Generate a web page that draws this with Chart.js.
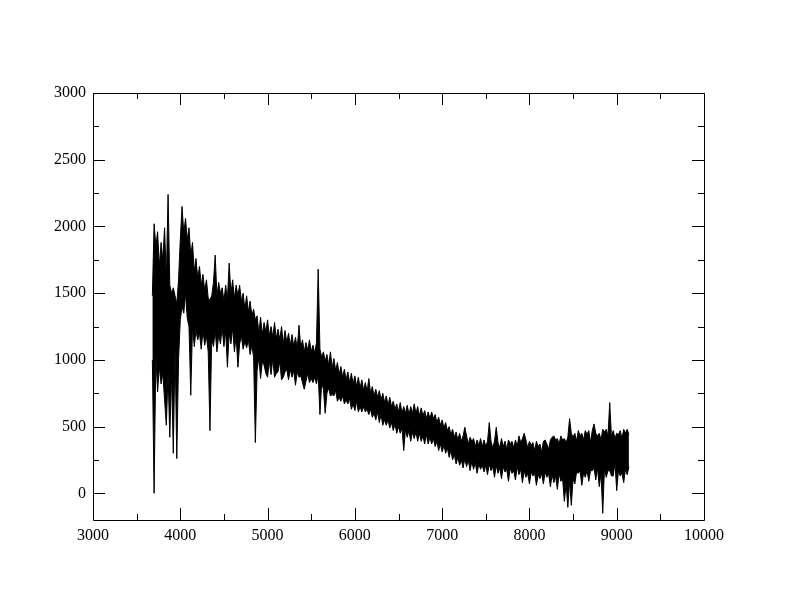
<!DOCTYPE html>
<html>
<head>
<meta charset="utf-8">
<script src="https://cdn.jsdelivr.net/npm/chart.js@4.4.0/dist/chart.umd.min.js"></script>
<style>
  html, body { margin: 0; padding: 0; background: #fff; }
  #wrap { width: 792px; height: 612px; }
</style>
</head>
<body>
<div id="wrap"><canvas id="spec" width="792" height="612"></canvas></div>
<script>
// spectrum: wavelength (A), upper and lower edge of the noisy trace
var wavelength = [
  3680,3700,3720,3740,3760,3780,3800,3820,3840,3860,
  3880,3900,3920,3940,3960,3980,4000,4020,4040,4060,
  4080,4100,4120,4140,4160,4180,4200,4220,4240,4260,
  4280,4300,4320,4340,4360,4380,4400,4420,4440,4460,
  4480,4500,4520,4540,4560,4580,4600,4620,4640,4660,
  4680,4700,4720,4740,4760,4780,4800,4820,4840,4860,
  4880,4900,4920,4940,4960,4980,5000,5020,5040,5060,
  5080,5100,5120,5140,5160,5180,5200,5220,5240,5260,
  5280,5300,5320,5340,5360,5380,5400,5420,5440,5460,
  5480,5500,5520,5540,5560,5580,5600,5620,5640,5660,
  5680,5700,5720,5740,5760,5780,5800,5820,5840,5860,
  5880,5900,5920,5940,5960,5980,6000,6020,6040,6060,
  6080,6100,6120,6140,6160,6180,6200,6220,6240,6260,
  6280,6300,6320,6340,6360,6380,6400,6420,6440,6460,
  6480,6500,6520,6540,6560,6580,6600,6620,6640,6660,
  6680,6700,6720,6740,6760,6780,6800,6820,6840,6860,
  6880,6900,6920,6940,6960,6980,7000,7020,7040,7060,
  7080,7100,7120,7140,7160,7180,7200,7220,7240,7260,
  7280,7300,7320,7340,7360,7380,7400,7420,7440,7460,
  7480,7500,7520,7540,7560,7580,7600,7620,7640,7660,
  7680,7700,7720,7740,7760,7780,7800,7820,7840,7860,
  7880,7900,7920,7940,7960,7980,8000,8020,8040,8060,
  8080,8100,8120,8140,8160,8180,8200,8220,8240,8260,
  8280,8300,8320,8340,8360,8380,8400,8420,8440,8460,
  8480,8500,8520,8540,8560,8580,8600,8620,8640,8660,
  8680,8700,8720,8740,8760,8780,8800,8820,8840,8860,
  8880,8900,8920,8940,8960,8980,9000,9020,9040,9060,
  9080,9100,9120,9140
];
var fluxTop = [
  1480,2020,1850,1960,1700,1880,1750,1990,1600,2240,
  1560,1500,1540,1480,1420,1600,1900,2150,1950,2060,
  1900,1990,1780,1880,1660,1760,1610,1700,1560,1640,
  1520,1600,1460,1450,1480,1580,1785,1480,1580,1500,
  1540,1440,1560,1450,1725,1500,1600,1460,1560,1480,
  1560,1440,1500,1380,1480,1360,1440,1330,1380,1300,
  1330,1200,1320,1190,1280,1210,1300,1180,1250,1170,
  1280,1160,1230,1150,1250,1120,1220,1130,1200,1110,
  1190,1100,1170,1080,1260,1090,1150,1060,1130,1070,
  1150,1060,1110,1050,1130,1680,1080,1020,1060,990,
  1040,960,1060,940,1010,920,980,890,950,870,
  930,850,910,830,900,820,880,800,870,790,
  850,770,830,760,860,750,800,730,780,720,
  770,700,750,680,730,660,720,650,690,630,
  670,610,680,600,650,600,660,590,650,600,
  670,600,650,580,640,580,620,560,610,560,
  610,560,590,530,570,510,550,490,530,470,
  500,440,480,420,460,400,450,390,430,495,
  430,370,420,390,410,350,400,360,410,350,
  400,350,390,530,390,340,390,495,380,340,
  410,350,390,330,400,370,390,340,400,350,
  430,380,410,450,400,340,390,360,380,320,
  390,350,370,310,390,400,370,330,400,420,
  430,400,410,370,430,400,410,380,420,560,
  450,420,450,390,470,430,450,400,470,440,
  470,380,470,520,450,430,450,400,480,460,
  480,430,680,420,470,410,450,440,470,410,
  480,450,480,440
];
var fluxBottom = [
  1000,0,1040,760,950,820,900,700,510,900,
  420,900,300,1100,260,1000,1300,1400,1350,1500,
  1310,1250,735,1250,1100,1220,1150,1200,1080,1220,
  1110,1180,1060,470,1160,1100,1220,1060,1190,1120,
  1240,1100,1220,945,1200,1120,1240,1060,1180,945,
  1120,1180,1080,1140,1090,1150,1040,1110,1020,380,
  920,1020,860,990,960,900,870,990,890,1010,
  870,900,910,990,850,870,910,930,850,930,
  870,920,810,910,870,880,830,780,840,900,
  830,860,830,870,820,890,590,830,780,600,
  750,790,730,740,730,770,690,720,690,730,
  670,700,670,710,630,670,620,690,610,650,
  610,650,610,630,590,630,570,600,550,610,
  530,590,510,550,510,550,490,530,470,520,
  450,500,450,490,320,480,420,470,390,460,
  410,460,390,450,390,430,370,440,370,420,
  370,410,350,390,320,370,310,360,300,340,
  270,320,250,290,220,270,210,250,190,260,
  200,250,170,240,180,230,150,220,180,210,
  160,210,140,220,170,200,120,210,150,190,
  110,200,160,180,90,190,150,170,100,200,
  140,180,80,170,120,150,70,160,130,150,
  60,140,110,150,70,160,120,150,50,140,
  80,130,30,150,90,110,-60,70,-105,90,
  -90,110,70,160,150,170,60,150,120,170,
  90,170,170,190,100,190,50,150,-150,190,
  120,170,170,130,130,230,20,170,130,150,
  80,180,140,200
];
var xTicks = [3000,4000,5000,6000,7000,8000,9000,10000];
var xMinor = [3500,4500,5500,6500,7500,8500,9500];
var yTicks = [0,500,1000,1500,2000,2500,3000];
var yMinor = [250,750,1250,1750,2250,2750];

var topPts = wavelength.map(function(w, i){ return {x: w, y: fluxTop[i]}; });
var botPts = wavelength.map(function(w, i){ return {x: w, y: fluxBottom[i]}; });

// inward ticks on all four sides plus the box
var frame = {
  id: 'frame',
  afterDraw: function(chart){
    var c = chart.ctx, a = chart.chartArea;
    var xs = chart.scales.x, ys = chart.scales.y;
    c.save();
    c.strokeStyle = '#000';
    c.lineWidth = 1;
    c.beginPath();
    c.rect(Math.round(a.left)+0.5, Math.round(a.top)+0.5, Math.round(a.right-a.left), Math.round(a.bottom-a.top));
    function tx(v, len){
      var p = Math.round(xs.getPixelForValue(v)) + 0.5;
      c.moveTo(p, a.bottom); c.lineTo(p, a.bottom - len);
      c.moveTo(p, a.top); c.lineTo(p, a.top + len);
    }
    function ty(v, len){
      var p = Math.round(ys.getPixelForValue(v)) + 0.5;
      c.moveTo(a.left, p); c.lineTo(a.left + len, p);
      c.moveTo(a.right, p); c.lineTo(a.right - len, p);
    }
    xTicks.forEach(function(v){ tx(v, 12); });
    xMinor.forEach(function(v){ tx(v, 6); });
    yTicks.forEach(function(v){ ty(v, 12); });
    yMinor.forEach(function(v){ ty(v, 6); });
    c.stroke();
    c.restore();
  }
};

var bg = {
  id: 'bg',
  beforeDraw: function(chart){
    var c = chart.ctx;
    c.save(); c.fillStyle = '#fff'; c.fillRect(0, 0, chart.width, chart.height); c.restore();
  }
};

var tickFont = { family: 'Liberation Serif', size: 16 };

new Chart(document.getElementById('spec').getContext('2d'), {
  type: 'line',
  data: {
    datasets: [{
      data: topPts,
      borderColor: '#000',
      borderWidth: 1,
      pointRadius: 0,
      tension: 0,
      fill: false
    }, {
      data: botPts,
      borderColor: '#000',
      backgroundColor: '#000',
      borderWidth: 1,
      pointRadius: 0,
      tension: 0,
      fill: '-1'
    }]
  },
  options: {
    responsive: false,
    animation: false,
    layout: { padding: { left: 0, top: 93, right: 88, bottom: 0 } },
    plugins: { legend: { display: false }, tooltip: { enabled: false } },
    scales: {
      x: {
        type: 'linear',
        min: 3000, max: 10000,
        afterFit: function(s){ s.height = 92; },
        afterBuildTicks: function(s){ s.ticks = xTicks.map(function(v){ return {value: v}; }); },
        grid: { display: false, drawTicks: false },
        border: { display: false },
        ticks: { color: '#000', padding: 6, maxRotation: 0, font: tickFont,
                 callback: function(v){ return String(v); } }
      },
      y: {
        type: 'linear',
        min: -200, max: 3000,
        afterFit: function(s){ s.width = 93; },
        afterBuildTicks: function(s){ s.ticks = yTicks.map(function(v){ return {value: v}; }); },
        grid: { display: false, drawTicks: false },
        border: { display: false },
        ticks: { color: '#000', padding: 7, font: tickFont,
                 callback: function(v){ return String(v); } }
      }
    }
  },
  plugins: [bg, frame]
});
</script>
</body>
</html>
